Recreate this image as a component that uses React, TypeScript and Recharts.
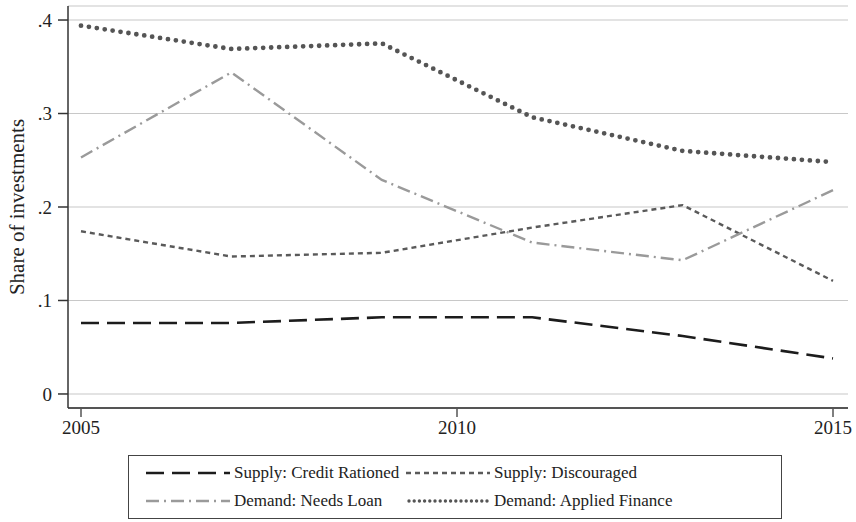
import { LineChart, Line, XAxis, YAxis, CartesianGrid } from 'recharts';

const years = [2005, 2007, 2009, 2011, 2013, 2015];
const creditRationed = [0.076, 0.076, 0.082, 0.082, 0.062, 0.038];
const discouraged = [0.174, 0.147, 0.151, 0.178, 0.202, 0.121];
const needsLoan = [0.253, 0.344, 0.229, 0.162, 0.143, 0.218];
const appliedFinance = [0.394, 0.369, 0.375, 0.296, 0.26, 0.248];

const xTicks = [2005, 2010, 2015];
const yTicks = [0, 0.1, 0.2, 0.3, 0.4];

const data = years.map((year, i) => ({
  year,
  creditRationed: creditRationed[i],
  discouraged: discouraged[i],
  needsLoan: needsLoan[i],
  appliedFinance: appliedFinance[i],
}));

const FONT = '"Liberation Serif", "DejaVu Serif", serif';
const TEXT = '#222';

const series = [
  { key: 'creditRationed', name: 'Supply: Credit Rationed', stroke: '#1c1c1c', width: 2.6, dash: '18 8', cap: 'butt' as const },
  { key: 'discouraged', name: 'Supply: Discouraged', stroke: '#5a5a5a', width: 2.4, dash: '5 4', cap: 'butt' as const },
  { key: 'needsLoan', name: 'Demand: Needs Loan', stroke: '#9a9a9a', width: 2.4, dash: '13 5 2 5', cap: 'butt' as const },
  { key: 'appliedFinance', name: 'Demand: Applied Finance', stroke: '#555555', width: 4.8, dash: '0 8', cap: 'round' as const },
];

const fmtY = (v: number) => (v === 0 ? '0' : '.' + Math.round(v * 10));

function LegendBox() {
  const sample = (s: (typeof series)[number]) => (
    <svg width={84} height={10} style={{ display: 'block' }}>
      <line
        x1={s.cap === 'round' ? 3 : 0}
        y1={5}
        x2={s.cap === 'round' ? 82 : 84}
        y2={5}
        stroke={s.stroke}
        strokeWidth={s.cap === 'round' ? 3.4 : 2.4}
        strokeDasharray={s.cap === 'round' ? '0 5.2' : s.dash}
        strokeLinecap={s.cap}
      />
    </svg>
  );
  const rows = [
    [series[0], series[1]],
    [series[2], series[3]],
  ];
  return (
    <div
      style={{
        position: 'absolute',
        left: 128,
        top: 455,
        width: 654,
        height: 64,
        border: '1.5px solid #444',
        fontFamily: FONT,
        fontSize: 17,
        color: TEXT,
        boxSizing: 'border-box',
      }}
    >
      {rows.map((row, r) => (
        <div key={r} style={{ position: 'absolute', top: 5 + r * 28, left: 0, height: 24 }}>
          {row.map((s, c) => (
            <div
              key={s.key}
              style={{
                position: 'absolute',
                left: c === 0 ? 17 : 277,
                top: 0,
                display: 'flex',
                alignItems: 'center',
                whiteSpace: 'nowrap',
                height: 24,
              }}
            >
              {sample(s)}
              <span style={{ marginLeft: 4 }}>{s.name}</span>
            </div>
          ))}
        </div>
      ))}
    </div>
  );
}

export default function App() {
  return (
    <div style={{ position: 'absolute', left: 0, top: 0, width: 856, height: 522, background: '#fff' }}>
      <LineChart width={856} height={450} data={data} margin={{ top: 6, right: 8, left: 8, bottom: 0 }}>
        <CartesianGrid horizontal vertical={false} stroke="#c8c8c8" strokeWidth={1.2} />
        <XAxis
          dataKey="year"
          type="number"
          domain={[2005, 2015]}
          ticks={xTicks}
          padding={{ left: 13, right: 15 }}
          height={42}
          tickSize={9}
          tickMargin={4}
          axisLine={{ stroke: '#555', strokeWidth: 1.8 }}
          tickLine={{ stroke: '#555', strokeWidth: 1.5 }}
          tick={{ fontFamily: FONT, fontSize: 19, fill: TEXT }}
        />
        <YAxis
          type="number"
          domain={[-0.015, 0.415]}
          ticks={yTicks}
          tickFormatter={fmtY}
          width={60}
          tickSize={10}
          tickMargin={6}
          axisLine={{ stroke: '#333', strokeWidth: 1.5 }}
          tickLine={{ stroke: '#333', strokeWidth: 1.5 }}
          tick={{ fontFamily: FONT, fontSize: 19, fill: TEXT }}
          label={{
            value: 'Share of investments',
            angle: -90,
            position: 'insideLeft',
            offset: 9,
            fontSize: 21,
            fontFamily: FONT,
            fill: TEXT,
            style: { textAnchor: 'middle', fontFamily: FONT, fontSize: 21, fill: TEXT },
          }}
        />
        {series.map((s) => (
          <Line
            key={s.key}
            dataKey={s.key}
            name={s.name}
            type="linear"
            stroke={s.stroke}
            strokeWidth={s.width}
            strokeDasharray={s.dash}
            strokeLinecap={s.cap}
            dot={false}
            activeDot={false}
            isAnimationActive={false}
          />
        ))}
      </LineChart>
      <LegendBox />
    </div>
  );
}
